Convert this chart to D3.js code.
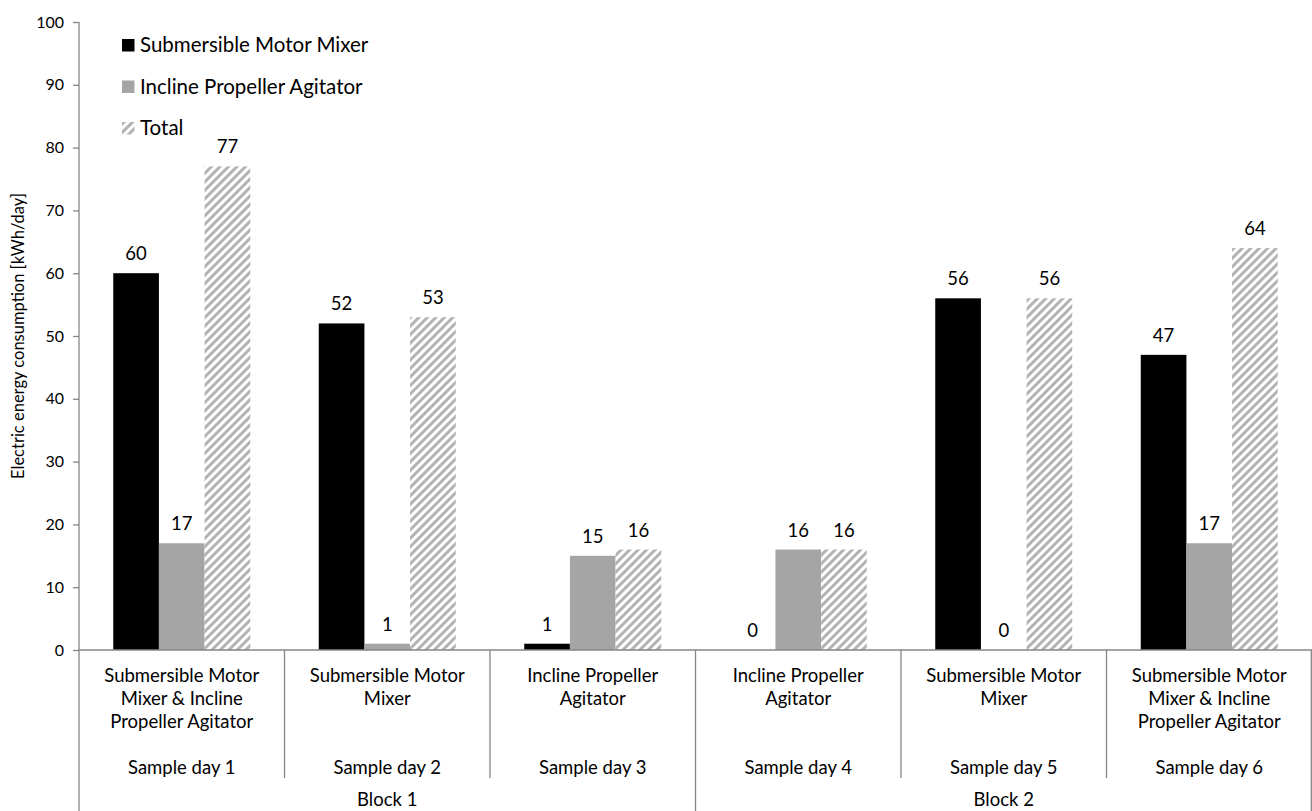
<!DOCTYPE html>
<html>
<head>
<meta charset="utf-8">
<script src="https://cdn.jsdelivr.net/npm/d3@7"></script>
<style>
  body { margin: 0; background: #fff; }
  svg { display: block; }
  text { font-family: Lato, "Open Sans", sans-serif; fill: #000; }
</style>
</head>
<body>
<svg id="chart" width="1312" height="811"></svg>
<script>
// Sample days, their system labels and the blocks they belong to
const days = ["Sample day 1", "Sample day 2", "Sample day 3", "Sample day 4", "Sample day 5", "Sample day 6"];
const systems = [
  ["Submersible Motor", "Mixer & Incline", "Propeller Agitator"],
  ["Submersible Motor", "Mixer"],
  ["Incline Propeller", "Agitator"],
  ["Incline Propeller", "Agitator"],
  ["Submersible Motor", "Mixer"],
  ["Submersible Motor", "Mixer & Incline", "Propeller Agitator"]
];
const blocks = ["Block 1", "Block 2"];
const daysPerBlock = 3;

// Daily electric energy consumption [kWh/day]
const seriesNames = ["Submersible Motor Mixer", "Incline Propeller Agitator", "Total"];
const mixer = [60, 52, 1, 0, 56, 47];
const agitator = [17, 1, 15, 16, 0, 17];
const total = [77, 53, 16, 16, 56, 64];
const yTicks = [0, 10, 20, 30, 40, 50, 60, 70, 80, 90, 100];

const seriesValues = [mixer, agitator, total];
const fills = ["#000000", "#a5a5a5", "url(#hatch)"];

const svg = d3.select("#chart");
const plotLeft = 79, plotRight = 1312, plotTop = 22, plotBottom = 650;

// Diagonal stripe fill for the Total series
const defs = svg.append("defs");
const pat = defs.append("pattern")
  .attr("id", "hatch")
  .attr("patternUnits", "userSpaceOnUse")
  .attr("width", 6).attr("height", 6)
  .attr("patternTransform", "rotate(45)");
pat.append("rect").attr("width", 6).attr("height", 6).attr("fill", "#fff");
pat.append("rect").attr("x", 0).attr("y", 0).attr("width", 3).attr("height", 6).attr("fill", "#b3b3b3");

const x = d3.scaleBand().domain(d3.range(days.length)).range([plotLeft, plotRight]).paddingInner(0).paddingOuter(0);
const bw = x.bandwidth();
const barW = bw / 4.5;
const xs = d3.scaleBand().domain(d3.range(seriesNames.length)).range([barW * 0.75, bw - barW * 0.75]).padding(0);
const y = d3.scaleLinear().domain([0, 100]).range([plotBottom, plotTop]);

const axisColor = "#868686";

// Y axis
const yAxis = svg.append("g")
  .attr("transform", `translate(${plotLeft},0)`)
  .call(d3.axisLeft(y).tickValues(yTicks).tickSize(6).tickPadding(9));
yAxis.select(".domain").remove();
yAxis.selectAll(".tick line").attr("stroke", axisColor).attr("stroke-width", 1.3);
yAxis.selectAll(".tick text").style("font-family", "Lato, 'Open Sans', sans-serif").style("font-size", "16px").attr("fill", "#000");
svg.append("line").attr("x1", plotLeft).attr("x2", plotLeft).attr("y1", plotTop).attr("y2", 811)
  .attr("stroke", axisColor).attr("stroke-width", 1.3);

svg.append("text")
  .attr("transform", `translate(24,336) rotate(-90)`)
  .attr("text-anchor", "middle")
  .style("font-size", "16.5px")
  .text("Electric energy consumption [kWh/day]");

// Bars
const groups = svg.append("g").selectAll("g")
  .data(days.map((d, i) => i))
  .join("g")
  .attr("transform", i => `translate(${x(i)},0)`);

groups.selectAll("rect")
  .data(i => seriesValues.map((vals, s) => ({ s, v: vals[i] })))
  .join("rect")
  .attr("x", d => xs(d.s))
  .attr("width", xs.bandwidth())
  .attr("y", d => y(d.v))
  .attr("height", d => y(0) - y(d.v))
  .attr("fill", d => fills[d.s]);

// Value labels
groups.selectAll("text.val")
  .data(i => seriesValues.map((vals, s) => ({ s, v: vals[i] })))
  .join("text")
  .attr("class", "val")
  .attr("x", d => xs(d.s) + xs.bandwidth() / 2)
  .attr("y", d => y(d.v) - 13)
  .attr("text-anchor", "middle")
  .style("font-size", "18.5px")
  .text(d => d.v);

// X axis line and category dividers
svg.append("line").attr("x1", plotLeft).attr("x2", plotRight).attr("y1", plotBottom).attr("y2", plotBottom)
  .attr("stroke", axisColor).attr("stroke-width", 1.3);
d3.range(1, days.length + 1).forEach(i => {
  const xx = i === days.length ? plotRight - 0.7 : x(i);
  const isBlockEdge = i % daysPerBlock === 0;
  svg.append("line")
    .attr("x1", xx).attr("x2", xx)
    .attr("y1", plotBottom).attr("y2", isBlockEdge ? 811 : 778)
    .attr("stroke", axisColor).attr("stroke-width", 1.3);
});

// System labels (multi-line) and sample day labels
days.forEach((d, i) => {
  const cx = x(i) + bw / 2;
  const t = svg.append("text").attr("text-anchor", "middle").style("font-size", "18.5px");
  systems[i].forEach((line, k) => {
    t.append("tspan").attr("x", cx).attr("y", 682 + k * 23).text(line);
  });
  svg.append("text").attr("x", cx).attr("y", 774).attr("text-anchor", "middle")
    .style("font-size", "18.5px").text(d);
});

// Block labels
blocks.forEach((b, j) => {
  const x0 = x(j * daysPerBlock);
  const x1 = j * daysPerBlock + daysPerBlock >= days.length ? plotRight : x(j * daysPerBlock + daysPerBlock);
  svg.append("text").attr("x", (x0 + x1) / 2).attr("y", 806).attr("text-anchor", "middle")
    .style("font-size", "18.5px").text(b);
});

// Legend
const legend = svg.append("g").attr("transform", "translate(122,39)");
seriesNames.forEach((name, s) => {
  const g = legend.append("g").attr("transform", `translate(0,${s * 41.5})`);
  g.append("rect").attr("width", 12.5).attr("height", 12.5).attr("fill", fills[s]);
  g.append("text").attr("x", 18).attr("y", 13).style("font-size", "20.5px").text(name);
});
</script>
</body>
</html>
